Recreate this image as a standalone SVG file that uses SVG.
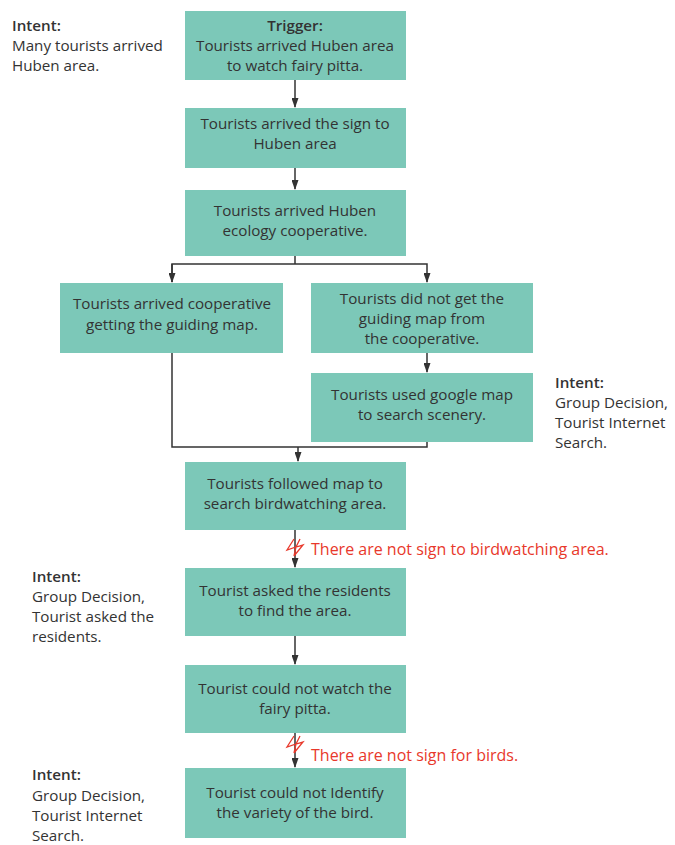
<svg xmlns="http://www.w3.org/2000/svg" width="675" height="845" viewBox="0 0 675 845">
<style>
.box{fill:#7cc8b8}
.t{font-family:"Open Sans","Noto Sans",sans-serif;font-size:15.2px;fill:#333;text-anchor:middle}
.i{font-family:"Open Sans","Noto Sans",sans-serif;font-size:15.2px;fill:#333}
.b{font-weight:600}
.r{font-family:"Open Sans","Noto Sans",sans-serif;font-size:16px;fill:#e8382b}
.ln{fill:none;stroke:#333;stroke-width:1.5}
.bolt{fill:none;stroke:#e8382b;stroke-width:1.3;stroke-linejoin:miter}
</style>
<defs>
<marker id="ah" markerWidth="10" markerHeight="7" refX="9" refY="3.5" orient="auto" markerUnits="userSpaceOnUse">
<path d="M0,0 L10,3.5 L0,7 Z" fill="#333"/>
</marker>
</defs>
<rect width="675" height="845" fill="#fff"/>
<g id="connectors">
<line class="ln" x1="295" y1="80" x2="295" y2="107" marker-end="url(#ah)"/>
<line class="ln" x1="295" y1="168" x2="295" y2="189" marker-end="url(#ah)"/>
<polyline class="ln" points="295,256 295,264"/>
<polyline class="ln" points="172,282 172,264 427,264 427,282" marker-end="url(#ah)"/>
<line class="ln" x1="172" y1="264" x2="172" y2="282" marker-end="url(#ah)"/>
<line class="ln" x1="427" y1="353" x2="427" y2="372" marker-end="url(#ah)"/>
<polyline class="ln" points="172,353 172,447 427,447 427,442"/>
<line class="ln" x1="298" y1="447" x2="298" y2="461" marker-end="url(#ah)"/>
<line class="ln" x1="295" y1="530" x2="295" y2="567" marker-end="url(#ah)"/>
<line class="ln" x1="295" y1="636" x2="295" y2="664" marker-end="url(#ah)"/>
<line class="ln" x1="295" y1="733" x2="295" y2="767" marker-end="url(#ah)"/>
</g>
<g id="intent1">
<text class="i b" x="12" y="31">Intent:</text>
<text class="i" x="12" y="51">Many tourists arrived</text>
<text class="i" x="12" y="71">Huben area.</text>
</g>
<g id="n1">
<rect class="box" x="185" y="11" width="221" height="69"/>
<text class="t b" x="295" y="31">Trigger:</text>
<text class="t" x="295" y="51">Tourists arrived Huben area</text>
<text class="t" x="295" y="71">to watch fairy pitta.</text>
</g>
<g id="n2">
<rect class="box" x="185" y="108" width="221" height="60"/>
<text class="t" x="295" y="129">Tourists arrived the sign to</text>
<text class="t" x="295" y="149">Huben area</text>
</g>
<g id="n3">
<rect class="box" x="185" y="190" width="221" height="66"/>
<text class="t" x="295" y="216">Tourists arrived Huben</text>
<text class="t" x="295" y="236">ecology cooperative.</text>
</g>
<g id="n4">
<rect class="box" x="60" y="283" width="223" height="70"/>
<text class="t" x="172" y="309">Tourists arrived cooperative</text>
<text class="t" x="172" y="330">getting the guiding map.</text>
</g>
<g id="n5">
<rect class="box" x="311" y="283" width="222" height="70"/>
<text class="t" x="422" y="304">Tourists did not get the</text>
<text class="t" x="422" y="324">guiding map from</text>
<text class="t" x="422" y="344">the cooperative.</text>
</g>
<g id="n6">
<rect class="box" x="311" y="373" width="222" height="69"/>
<text class="t" x="422" y="400">Tourists used google map</text>
<text class="t" x="422" y="420">to search scenery.</text>
</g>
<g id="intent2">
<text class="i b" x="555" y="388">Intent:</text>
<text class="i" x="555" y="408">Group Decision,</text>
<text class="i" x="555" y="428">Tourist Internet</text>
<text class="i" x="555" y="448">Search.</text>
</g>
<g id="n7">
<rect class="box" x="185" y="462" width="221" height="68"/>
<text class="t" x="295" y="489">Tourists followed map to</text>
<text class="t" x="295" y="509">search birdwatching area.</text>
</g>
<g id="warn1">
<path class="bolt" d="M294,539 L287,550 L296,547 L294,556 L303,545 L296,547 L300,539"/>
<text class="r" x="311" y="555">There are not sign to birdwatching area.</text>
</g>
<g id="intent3">
<text class="i b" x="32" y="582">Intent:</text>
<text class="i" x="32" y="602">Group Decision,</text>
<text class="i" x="32" y="622">Tourist asked the</text>
<text class="i" x="32" y="642">residents.</text>
</g>
<g id="n8">
<rect class="box" x="185" y="568" width="221" height="68"/>
<text class="t" x="295" y="596">Tourist asked the residents</text>
<text class="t" x="295" y="616">to find the area.</text>
</g>
<g id="n9">
<rect class="box" x="185" y="665" width="221" height="68"/>
<text class="t" x="295" y="694">Tourist could not watch the</text>
<text class="t" x="295" y="714">fairy pitta.</text>
</g>
<g id="warn2">
<path class="bolt" d="M294,736 L287,747 L296,744 L294,753 L303,742 L296,744 L300,736"/>
<text class="r" x="311" y="761">There are not sign for birds.</text>
</g>
<g id="intent4">
<text class="i b" x="32" y="780">Intent:</text>
<text class="i" x="32" y="801">Group Decision,</text>
<text class="i" x="32" y="821">Tourist Internet</text>
<text class="i" x="32" y="841">Search.</text>
</g>
<g id="n10">
<rect class="box" x="185" y="768" width="221" height="70"/>
<text class="t" x="295" y="798">Tourist could not Identify</text>
<text class="t" x="295" y="818">the variety of the bird.</text>
</g>
</svg>
